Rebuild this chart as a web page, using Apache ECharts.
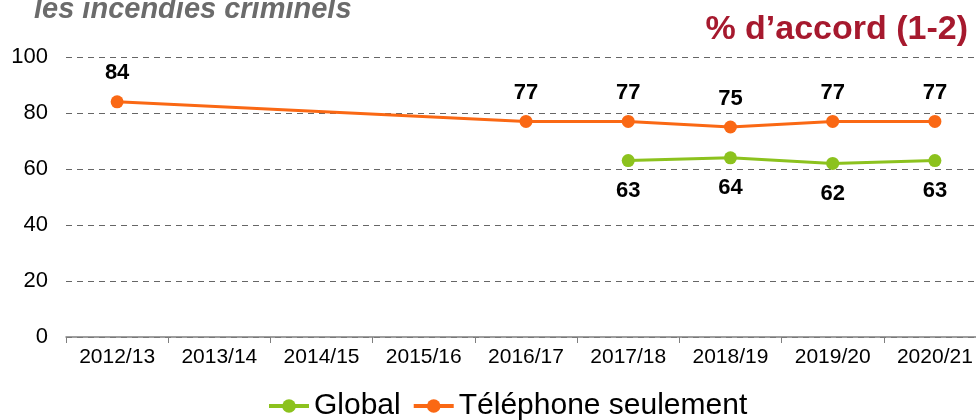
<!DOCTYPE html>
<html>
<head>
<meta charset="utf-8">
<script src="https://cdn.jsdelivr.net/npm/echarts@6/dist/echarts.min.js"></script>
<style>
  html, body { margin: 0; padding: 0; background: #fff; overflow: hidden; }
  #chart { width: 976px; height: 420px; }
</style>
</head>
<body>
<div id="chart"></div>
<script>
// Survey years on the category axis
const years = ['2012/13', '2013/14', '2014/15', '2015/16', '2016/17', '2017/18', '2018/19', '2019/20', '2020/21'];
// Share agreeing (%), overall sample
const globalValues = [null, null, null, null, null, 63, 64, 62, 63];
// Share agreeing (%), telephone respondents only
const phoneValues = [84, null, null, null, 77, 77, 75, 77, 77];
// Value axis ticks
const yTicks = [0, 20, 40, 60, 80, 100];

const chart = echarts.init(document.getElementById('chart'));
const font = 'Liberation Sans, Arial, sans-serif';

chart.setOption({
  animation: false,
  textStyle: { fontFamily: font },
  title: [
    {
      text: 'les incendies criminels',
      left: 29, top: -10,
      textStyle: { fontFamily: font, fontSize: 29, fontStyle: 'italic', fontWeight: 'bold', color: '#6b6b6b' }
    },
    {
      text: '% d\u2019accord (1-2)',
      right: 3, top: 8,
      textStyle: { fontFamily: font, fontSize: 34, fontWeight: 'bold', color: '#a6192e' }
    }
  ],
  legend: {
    top: 386, left: 262,
    itemWidth: 40, itemHeight: 17, itemGap: 11,
    lineStyle: { width: 4 },
    textStyle: { fontFamily: font, fontSize: 30, color: '#000' },
    data: ['Global', 'Téléphone seulement']
  },
  grid: { left: 66, width: 920, top: 57, bottom: 83, outerBoundsMode: 'none' },
  xAxis: {
    type: 'category',
    data: years,
    boundaryGap: true,
    axisLine: { lineStyle: { color: '#7f7f7f', width: 1.5 } },
    axisTick: { show: true, length: 6, lineStyle: { color: '#7f7f7f' } },
    axisLabel: { fontFamily: font, fontSize: 21, color: '#000', margin: 10 }
  },
  yAxis: {
    type: 'value',
    min: yTicks[0], max: yTicks[yTicks.length - 1], interval: 20,
    axisLine: { show: false },
    axisTick: { show: false },
    axisLabel: { fontFamily: font, fontSize: 22, color: '#000', margin: 18 },
    splitLine: { lineStyle: { type: [6, 5], color: '#666', width: 1 } }
  },
  series: [
    {
      name: 'Global',
      type: 'line',
      data: globalValues,
      connectNulls: true,
      symbol: 'circle', symbolSize: 13,
      itemStyle: { color: '#8cc21e' },
      lineStyle: { color: '#8cc21e', width: 3 },
      label: {
        show: true, position: 'bottom', distance: 13,
        fontFamily: font, fontSize: 22, fontWeight: 'bold', color: '#000'
      }
    },
    {
      name: 'Téléphone seulement',
      type: 'line',
      data: phoneValues,
      connectNulls: true,
      symbol: 'circle', symbolSize: 13,
      itemStyle: { color: '#fa6814' },
      lineStyle: { color: '#fa6814', width: 3 },
      label: {
        show: true, position: 'top', distance: 11,
        fontFamily: font, fontSize: 22, fontWeight: 'bold', color: '#000'
      }
    }
  ]
});
</script>
</body>
</html>
